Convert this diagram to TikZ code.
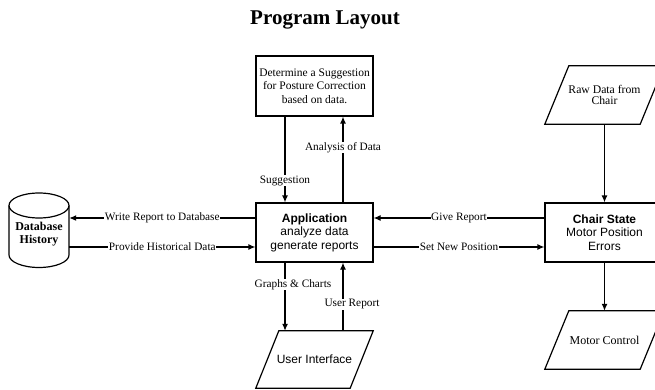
\documentclass[tikz,border=0pt]{standalone}
\usepackage{fontspec}
\setmainfont{Liberation Serif}
\newfontfamily\sansf{Liberation Sans}
\usetikzlibrary{shapes.geometric,arrows.meta}
\begin{document}
\begin{tikzpicture}[x=1pt,y=-1pt,
  every node/.style={inner sep=0pt},
  boxs/.style={draw, line width=1.2pt, minimum width=117pt, minimum height=59pt, align=center, fill=white},
  para/.style={minimum width=95pt, minimum height=58pt, align=center},
  arr/.style={line width=1.2pt, -{Latex[length=7pt,width=6pt]}},
  ln/.style={line width=1.2pt, line join=miter},
  lab/.style={fill=white, inner sep=0.5pt, font=\fontsize{11.3}{13}\selectfont},
  serift/.style={font=\fontsize{11.5}{13.5}\selectfont},
  sanst/.style={font=\sansf\fontsize{12}{13.5}\selectfont}
]
\useasboundingbox (0,0) rectangle (655,390);
\clip (0,0) rectangle (655,390);

\node[font=\bfseries\fontsize{21}{24}\selectfont] (title) at (325,20) {Program Layout};

\node[boxs, serift, minimum height=60pt] (top) at (314.5,86) {Determine a Suggestion\\for Posture Correction\\based on data.};
\node[boxs, sanst] (app) at (314.5,232.5) {\bfseries Application\\analyze data\\generate reports};
\node[boxs, sanst, minimum width=119pt] (chair) at (604.5,232.5) {\bfseries Chair State\\Motor Position\\Errors};

% parallelograms
\node[para, font=\fontsize{11.7}{11.7}\selectfont] (raw) at (604.5,95) {Raw Data from\\Chair};
\draw[ln] ([xshift=-12pt]raw.south west) -- ([xshift=12pt]raw.north west) -- ([xshift=12pt]raw.north east) -- ([xshift=-12pt]raw.south east) -- cycle;
\node[para, font=\fontsize{12}{13}\selectfont] (motor) at (604.5,340) {Motor Control};
\draw[ln] ([xshift=-12pt]motor.south west) -- ([xshift=12pt]motor.north west) -- ([xshift=12pt]motor.north east) -- ([xshift=-12pt]motor.south east) -- cycle;
\node[para, minimum width=94pt, minimum height=57pt, sanst] (ui) at (314.5,359.5) {User Interface};
\draw[ln] ([xshift=-11.5pt]ui.south west) -- ([xshift=11.5pt]ui.north west) -- ([xshift=11.5pt]ui.north east) -- ([xshift=-11.5pt]ui.south east) -- cycle;

% database cylinder
\draw[ln] (39,205.5) ellipse [x radius=30, y radius=12.5];
\draw[ln] (9,205.5) -- (9,255) arc[start angle=180, end angle=0, x radius=30, y radius=12.5] -- (69,205.5);
\node[minimum width=60pt, minimum height=74pt, align=center, font=\bfseries\fontsize{12}{13}\selectfont] (db) at (39,234.5) {Database\\History};

% connectors
\draw[arr] ([xshift=-29.5pt]top.south) -- ([xshift=-29.5pt]app.north) node[lab,pos=0.75]{Suggestion};
\draw[arr] ([xshift=28.5pt]app.north) -- ([xshift=28.5pt]top.south) node[lab,pos=0.64]{Analysis of Data};
\draw[arr] ([yshift=14.5pt]app.west) -- ([yshift=14.5pt]app.west -| db.east) node[lab,midway]{Write Report to Database};
\draw[arr] ([yshift=-14.5pt]app.west -| db.east) -- ([yshift=-14.5pt]app.west) node[lab,midway]{Provide Historical Data};
\draw[arr] ([yshift=14.5pt]chair.west) -- ([yshift=14.5pt]app.east) node[lab,midway]{Give Report};
\draw[arr] ([yshift=-14.5pt]app.east) -- ([yshift=-14.5pt]chair.west) node[lab,midway]{Set New Position};
\draw[arr] (raw.south) -- (chair.north);
\draw[arr] (chair.south) -- (motor.north);
\draw[arr] ([xshift=-29.5pt]app.south) -- ([xshift=-29.5pt]app.south |- ui.north) node[lab,pos=0.32,xshift=8pt]{Graphs \& Charts};
\draw[arr] ([xshift=28.5pt]app.south |- ui.north) -- ([xshift=28.5pt]app.south) node[lab,pos=0.39,xshift=9pt]{User Report};
\end{tikzpicture}
\end{document}
